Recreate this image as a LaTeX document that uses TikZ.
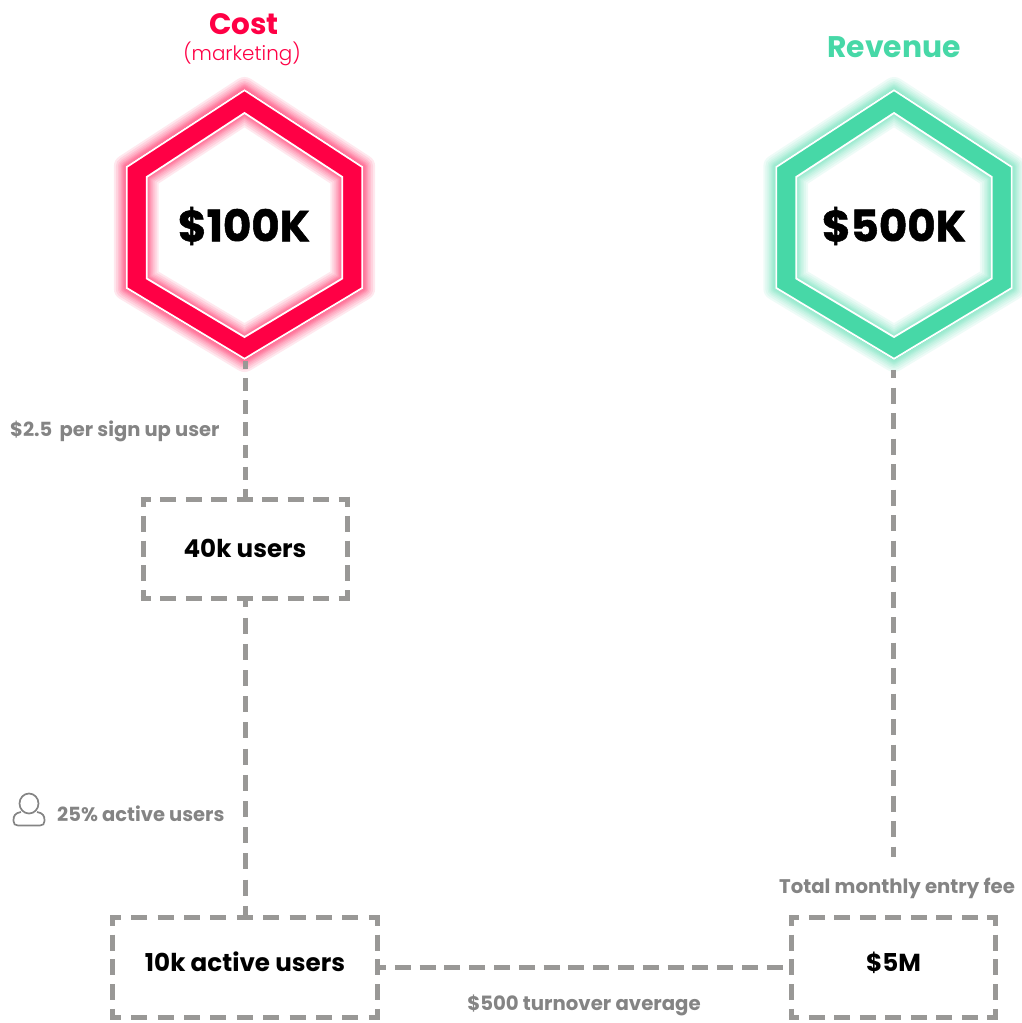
\documentclass[tikz,border=0pt]{standalone}
\usepackage{fontspec}
\setmainfont{Poppins}
\newfontfamily\poplight{Poppins Light}
\usetikzlibrary{positioning}
\definecolor{costred}{HTML}{FF0045}
\definecolor{revgreen}{HTML}{47D8A7}
\definecolor{dashgray}{HTML}{999896}
\definecolor{labelgray}{HTML}{848484}
\newcommand{\px}[1]{\fontsize{#1}{#1}\selectfont}
\tikzset{
  dashline/.style={draw=dashgray,line width=5pt,dash pattern=on 16pt off 10pt},
  boxnode/.style={inner sep=0pt,font=\px{24.6}\bfseries},
  sidelabel/.style={text=labelgray,inner sep=0pt,font=\px{19.7}\bfseries},
  hexvalue/.style={minimum height=270pt,minimum width=236pt,inner sep=0pt,font=\px{43.5}\bfseries\addfontfeature{FakeBold=1.2}}
}
% hexagon ring with a soft glow: centre x, colour
\newcommand{\hexring}[2]{
  \def\outerhex{(#1,89) -- (#1+118.7,166.5) -- (#1+118.7,288.5) -- (#1,360) -- (#1-118.7,288.5) -- (#1-118.7,166.5) --cycle}
  \def\innerhex{(#1,113) -- (#1+97.8,177) -- (#1+97.8,278.5) -- (#1,337) -- (#1-97.8,278.5) -- (#1-97.8,177) --cycle}
  \foreach \w in {24,20,16,13,10,8,6,4}{
    \draw[#2,line width=\w pt,opacity=0.09,line join=round] \outerhex;
    \draw[#2,line width=\w pt,opacity=0.09,line join=round] \innerhex;
  }
  \fill[#2,even odd rule] \outerhex \innerhex;
  \draw[white,line width=1.8pt] (#1,90.2) -- (#1+117.8,167) -- (#1+117.8,288) -- (#1,358.8) -- (#1-117.8,288) -- (#1-117.8,167) --cycle;
  \draw[white,line width=1.8pt] \innerhex;
}
% dashed frame round a node: node name, gap along top and bottom, gap along the sides
\newcommand{\dashframe}[3]{
  \draw[dashline,dash pattern=on 16pt off #2pt,dash phase=5.5pt,shorten <=-2.5pt,shorten >=-2.5pt] (#1.north west) -- (#1.north east);
  \draw[dashline,dash pattern=on 16pt off #2pt,dash phase=5.5pt,shorten <=-2.5pt,shorten >=-2.5pt] (#1.south west) -- (#1.south east);
  \draw[dashline,dash pattern=on 16pt off #3pt,dash phase=5.5pt,shorten <=-2.5pt,shorten >=-2.5pt] (#1.north west) -- (#1.south west);
  \draw[dashline,dash pattern=on 16pt off #3pt,dash phase=5.5pt,shorten <=-2.5pt,shorten >=-2.5pt] (#1.north east) -- (#1.south east);
}
\begin{document}
\begin{tikzpicture}[x=1pt,y=-1pt]
\useasboundingbox (0,0) rectangle (1021,1023);
\hexring{244.5}{costred}
\hexring{894}{revgreen}
% titles
\node[text=costred,inner sep=0pt,font=\px{29.5}\bfseries] (costtitle) at (244,24) {Cost};
\node[text=costred,inner sep=0pt,font=\px{19.9}\poplight] (costsub) at (242,54) {(marketing)};
\node[text=revgreen,inner sep=0pt,font=\px{29.8}\bfseries] (revtitle) at (894,47) {Revenue};
% hexagon values
\node[hexvalue] (cost) at (245,226) {\hspace{-2pt}\$100K};
\node[hexvalue] (revenue) at (894,226) {\$500K};
% boxes
\node[boxnode,minimum width=203.6pt,minimum height=99pt] (users) at (245,548.7) {\raisebox{-3pt}{40k users}};
\node[boxnode,minimum width=264pt,minimum height=99pt] (active) at (245,967.5) {\raisebox{12.5pt}{10k active users}};
\node[boxnode,minimum width=204pt,minimum height=99pt] (fee) at (893.5,967.5) {\raisebox{12.5pt}{\$5M}};
\dashframe{users}{9.45}{8.75}
\dashframe{active}{10.4}{8.75}
\dashframe{fee}{9.5}{8.75}
% labels
\node[sidelabel,anchor=west,font=\px{19.5}\bfseries] (signup) at (10,431) {\$2.5\, per sign up user};
\node[sidelabel,anchor=west,font=\px{19.5}\bfseries] (activelabel) at (57,814) {25\% active users};
\node[sidelabel] (feelabel) at (897,888) {Total monthly entry fee};
\node[sidelabel] (turnover) at (584,1005) {\$500 turnover average};
% connectors
\coordinate (revend) at (893,857);
\coordinate (revstart) at ([xshift=-1pt,yshift=-9pt]revenue.south);
\draw[dashline,dash pattern=on 13.5pt off 8.7pt,dash phase=5.5pt] (cost.south) -- (users.north);
\draw[dashline,dash pattern=on 16pt off 10.2pt,dash phase=7pt] (users.south) -- (active.north);
\draw[dashline,dash pattern=on 16pt off 9.5pt,dash phase=8pt] (revstart) -- (revend);
\draw[dashline,dash pattern=on 16pt off 8.8pt,dash phase=7.2pt] (active.east) -- (fee.west);
% user icon
\draw[labelgray,line width=1.7pt] (29,803.5) ellipse (9.5 and 10);
\draw[labelgray,line width=1.7pt] (21,812) .. controls (15,813) and (13.5,816) .. (13.5,820) -- (13.5,821) .. controls (13.5,824) and (15,825.5) .. (18,825.5) -- (40,825.5) .. controls (43,825.5) and (44.5,824) .. (44.5,821) -- (44.5,820) .. controls (44.5,816) and (43,813) .. (37,812);
\end{tikzpicture}
\end{document}
